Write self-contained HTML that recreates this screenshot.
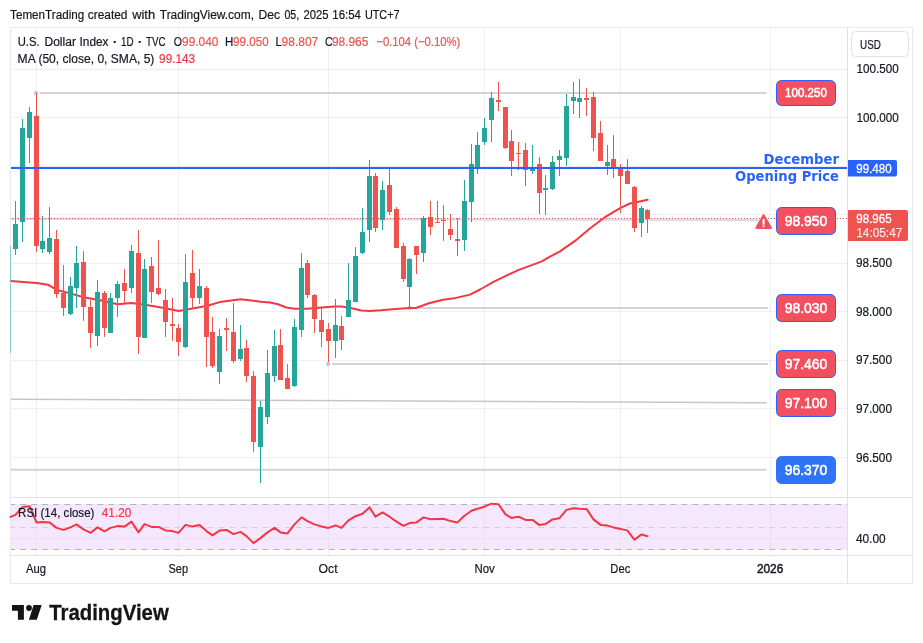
<!DOCTYPE html>
<html lang="en"><head><meta charset="utf-8"><title>U.S. Dollar Index chart</title>
<style>html,body{margin:0;padding:0;background:#fff;overflow:hidden}svg{display:block}</style></head>
<body>
<svg width="923" height="643" viewBox="0 0 923 643" font-family="'Liberation Sans', sans-serif" font-size="12.5" fill="#131722">
<rect width="923" height="643" fill="#fff"/>
<g shape-rendering="crispEdges">
<rect x="10.5" y="27.5" width="902" height="556" fill="#fff" stroke="#e9eaee"/>
<rect x="36" y="28" width="1" height="527" fill="#2a2e39" fill-opacity="0.07"/>
<rect x="178" y="28" width="1" height="527" fill="#2a2e39" fill-opacity="0.07"/>
<rect x="328" y="28" width="1" height="527" fill="#2a2e39" fill-opacity="0.07"/>
<rect x="484" y="28" width="1" height="527" fill="#2a2e39" fill-opacity="0.07"/>
<rect x="620" y="28" width="1" height="527" fill="#2a2e39" fill-opacity="0.07"/>
<rect x="770" y="28" width="1" height="527" fill="#2a2e39" fill-opacity="0.07"/>
<rect x="11" y="69" width="836" height="1" fill="#2a2e39" fill-opacity="0.07"/>
<rect x="11" y="117" width="836" height="1" fill="#2a2e39" fill-opacity="0.07"/>
<rect x="11" y="166" width="836" height="1" fill="#2a2e39" fill-opacity="0.07"/>
<rect x="11" y="214" width="836" height="1" fill="#2a2e39" fill-opacity="0.07"/>
<rect x="11" y="263" width="836" height="1" fill="#2a2e39" fill-opacity="0.07"/>
<rect x="11" y="311" width="836" height="1" fill="#2a2e39" fill-opacity="0.07"/>
<rect x="11" y="360" width="836" height="1" fill="#2a2e39" fill-opacity="0.07"/>
<rect x="11" y="408" width="836" height="1" fill="#2a2e39" fill-opacity="0.07"/>
<rect x="11" y="457" width="836" height="1" fill="#2a2e39" fill-opacity="0.07"/>
<rect x="11" y="504" width="836" height="45.6" fill="#f5e8fd" shape-rendering="auto"/>
<rect x="36" y="504" width="1" height="45" fill="#e9dff1"/>
<rect x="178" y="504" width="1" height="45" fill="#e9dff1"/>
<rect x="328" y="504" width="1" height="45" fill="#e9dff1"/>
<rect x="484" y="504" width="1" height="45" fill="#e9dff1"/>
<rect x="620" y="504" width="1" height="45" fill="#e9dff1"/>
<rect x="770" y="504" width="1" height="45" fill="#e9dff1"/>
<rect x="11" y="538" width="836" height="1" fill="#e9dff1"/>
</g>
<line x1="11" y1="504.5" x2="847" y2="504.5" stroke="#b2b5be" stroke-width="1" stroke-dasharray="6 5.02" stroke-dashoffset="1.9"/>
<line x1="11" y1="527.5" x2="847" y2="527.5" stroke="#d4cfdc" stroke-width="1" stroke-dasharray="6 5.02" stroke-dashoffset="1.9"/>
<line x1="11" y1="549.5" x2="847" y2="549.5" stroke="#b2b5be" stroke-width="1" stroke-dasharray="6 5.02" stroke-dashoffset="1.9"/>
<g shape-rendering="crispEdges" fill="#e0e3eb">
<rect x="847" y="28" width="1" height="555" fill="#dfe0e4"/>
<rect x="11" y="497" width="901" height="1"/>
<rect x="11" y="555" width="901" height="1"/>
</g>
<g stroke="#d2d4d9" stroke-width="2" stroke-linecap="butt">
<line x1="39.5" y1="93" x2="766.5" y2="93"/>
<line x1="11" y1="218.9" x2="759" y2="219.8" stroke-width="2.2" stroke="#d8dade"/>
<line x1="413" y1="308" x2="768" y2="308"/>
<line x1="331.8" y1="364" x2="768" y2="364"/>
<line x1="11" y1="469.8" x2="766.5" y2="469.8"/>
</g>
<line x1="11" y1="399.2" x2="766.5" y2="402.8" stroke="#c4c6cd" stroke-width="1.5"/>
<rect x="34.3" y="91.3" width="3.5" height="3.5" fill="#bfc1c9"/>
<rect x="326.4" y="362.2" width="3.5" height="3.5" fill="#bfc1c9"/>
<rect x="407.8" y="306.3" width="3.5" height="3.5" fill="#bfc1c9"/>
<polyline points="10.5,281 36.7,283 47.9,284.7 56.3,289.7 70.3,293.4 83.5,297.2 97.5,299.7 117.6,304.2 131.4,302.9 145,304.7 162.5,307.7 178.7,310.9 192.4,308.5 206.4,306 219.8,302.1 240.6,299.2 260.8,301.7 270,302.6 278,304.3 286.3,307.5 294.5,308.7 307.5,308.8 321.6,307.5 335.3,306.4 341.8,306.4 351.6,308.3 361.4,310.5 369.6,311.1 381,310.3 392.4,309.2 409.5,308 416,307.9 420,306.5 429,303.2 443,299.8 456,297.9 470,294.6 480,289.5 484.5,287 494.4,281.3 506.9,275.3 519.4,269.6 531.8,265.1 541.8,261.4 550,256.7 560,251.4 575,240.9 589.9,228.5 604.9,217.2 620.6,207.8 629.8,203.5 639.7,201.5 647.5,199.8" fill="none" stroke="#f23645" stroke-width="2" stroke-linejoin="round" stroke-linecap="round"/>
<g shape-rendering="crispEdges">
<rect x="10" y="246" width="1" height="107" fill="#8ccfc8"/>
<rect x="15" y="201" width="1" height="54" fill="#26a69a"/>
<rect x="13" y="224" width="5" height="25" fill="#26a69a"/>
<rect x="22" y="119" width="1" height="123" fill="#26a69a"/>
<rect x="20" y="128" width="5" height="94" fill="#26a69a"/>
<rect x="29" y="107" width="1" height="56" fill="#26a69a"/>
<rect x="27" y="112" width="5" height="26" fill="#26a69a"/>
<rect x="36" y="93" width="1" height="159" fill="#ef5350"/>
<rect x="34" y="116" width="5" height="130" fill="#ef5350"/>
<rect x="42" y="216" width="1" height="37" fill="#26a69a"/>
<rect x="40" y="241" width="5" height="8" fill="#26a69a"/>
<rect x="49" y="207" width="1" height="47" fill="#26a69a"/>
<rect x="47" y="238" width="5" height="14" fill="#26a69a"/>
<rect x="56" y="230" width="1" height="68" fill="#ef5350"/>
<rect x="54" y="239" width="5" height="55" fill="#ef5350"/>
<rect x="63" y="265" width="1" height="51" fill="#ef5350"/>
<rect x="61" y="293" width="5" height="15" fill="#ef5350"/>
<rect x="70" y="277" width="1" height="38" fill="#26a69a"/>
<rect x="68" y="286" width="5" height="28" fill="#26a69a"/>
<rect x="76" y="246" width="1" height="62" fill="#26a69a"/>
<rect x="74" y="263" width="5" height="25" fill="#26a69a"/>
<rect x="83" y="251" width="1" height="70" fill="#ef5350"/>
<rect x="81" y="262" width="5" height="45" fill="#ef5350"/>
<rect x="90" y="300" width="1" height="48" fill="#ef5350"/>
<rect x="88" y="307" width="5" height="26" fill="#ef5350"/>
<rect x="97" y="280" width="1" height="66" fill="#26a69a"/>
<rect x="95" y="292" width="5" height="44" fill="#26a69a"/>
<rect x="104" y="291" width="1" height="46" fill="#ef5350"/>
<rect x="102" y="293" width="5" height="35" fill="#ef5350"/>
<rect x="110" y="293" width="1" height="40" fill="#26a69a"/>
<rect x="108" y="298" width="5" height="35" fill="#26a69a"/>
<rect x="117" y="281" width="1" height="36" fill="#26a69a"/>
<rect x="115" y="284" width="5" height="14" fill="#26a69a"/>
<rect x="124" y="269" width="1" height="34" fill="#ef5350"/>
<rect x="122" y="283" width="5" height="8" fill="#ef5350"/>
<rect x="131" y="245" width="1" height="48" fill="#26a69a"/>
<rect x="129" y="251" width="5" height="37" fill="#26a69a"/>
<rect x="138" y="230" width="1" height="124" fill="#ef5350"/>
<rect x="136" y="253" width="5" height="84" fill="#ef5350"/>
<rect x="144" y="259" width="1" height="79" fill="#26a69a"/>
<rect x="142" y="269" width="5" height="69" fill="#26a69a"/>
<rect x="151" y="257" width="1" height="46" fill="#ef5350"/>
<rect x="149" y="266" width="5" height="26" fill="#ef5350"/>
<rect x="158" y="240" width="1" height="55" fill="#ef5350"/>
<rect x="156" y="288" width="5" height="6" fill="#ef5350"/>
<rect x="165" y="289" width="1" height="48" fill="#ef5350"/>
<rect x="163" y="300" width="5" height="22" fill="#ef5350"/>
<rect x="172" y="298" width="1" height="43" fill="#ef5350"/>
<rect x="170" y="324" width="5" height="2" fill="#ef5350"/>
<rect x="178" y="324" width="1" height="32" fill="#ef5350"/>
<rect x="176" y="328" width="5" height="14" fill="#ef5350"/>
<rect x="185" y="254" width="1" height="94" fill="#26a69a"/>
<rect x="183" y="282" width="5" height="65" fill="#26a69a"/>
<rect x="192" y="250" width="1" height="59" fill="#ef5350"/>
<rect x="190" y="273" width="5" height="25" fill="#ef5350"/>
<rect x="199" y="269" width="1" height="35" fill="#26a69a"/>
<rect x="197" y="286" width="5" height="12" fill="#26a69a"/>
<rect x="206" y="286" width="1" height="81" fill="#ef5350"/>
<rect x="204" y="288" width="5" height="49" fill="#ef5350"/>
<rect x="212" y="317" width="1" height="51" fill="#ef5350"/>
<rect x="210" y="332" width="5" height="34" fill="#ef5350"/>
<rect x="219" y="329" width="1" height="55" fill="#26a69a"/>
<rect x="217" y="336" width="5" height="36" fill="#26a69a"/>
<rect x="226" y="318" width="1" height="33" fill="#ef5350"/>
<rect x="224" y="328" width="5" height="2" fill="#ef5350"/>
<rect x="233" y="303" width="1" height="60" fill="#ef5350"/>
<rect x="231" y="332" width="5" height="29" fill="#ef5350"/>
<rect x="240" y="325" width="1" height="36" fill="#26a69a"/>
<rect x="238" y="349" width="5" height="10" fill="#26a69a"/>
<rect x="246" y="340" width="1" height="42" fill="#ef5350"/>
<rect x="244" y="348" width="5" height="28" fill="#ef5350"/>
<rect x="253" y="371" width="1" height="81" fill="#ef5350"/>
<rect x="251" y="376" width="5" height="66" fill="#ef5350"/>
<rect x="260" y="401" width="1" height="82" fill="#26a69a"/>
<rect x="258" y="407" width="5" height="40" fill="#26a69a"/>
<rect x="267" y="350" width="1" height="74" fill="#26a69a"/>
<rect x="265" y="373" width="5" height="44" fill="#26a69a"/>
<rect x="274" y="330" width="1" height="52" fill="#26a69a"/>
<rect x="272" y="346" width="5" height="30" fill="#26a69a"/>
<rect x="280" y="329" width="1" height="51" fill="#ef5350"/>
<rect x="278" y="345" width="5" height="35" fill="#ef5350"/>
<rect x="287" y="364" width="1" height="25" fill="#ef5350"/>
<rect x="285" y="378" width="5" height="11" fill="#ef5350"/>
<rect x="294" y="319" width="1" height="68" fill="#26a69a"/>
<rect x="292" y="327" width="5" height="59" fill="#26a69a"/>
<rect x="301" y="253" width="1" height="84" fill="#26a69a"/>
<rect x="299" y="268" width="5" height="62" fill="#26a69a"/>
<rect x="307" y="260" width="1" height="38" fill="#ef5350"/>
<rect x="305" y="263" width="5" height="32" fill="#ef5350"/>
<rect x="314" y="294" width="1" height="39" fill="#ef5350"/>
<rect x="312" y="295" width="5" height="24" fill="#ef5350"/>
<rect x="321" y="308" width="1" height="39" fill="#ef5350"/>
<rect x="319" y="320" width="5" height="12" fill="#ef5350"/>
<rect x="328" y="323" width="1" height="39" fill="#ef5350"/>
<rect x="326" y="329" width="5" height="12" fill="#ef5350"/>
<rect x="335" y="299" width="1" height="59" fill="#26a69a"/>
<rect x="333" y="325" width="5" height="16" fill="#26a69a"/>
<rect x="341" y="316" width="1" height="34" fill="#ef5350"/>
<rect x="339" y="326" width="5" height="14" fill="#ef5350"/>
<rect x="348" y="263" width="1" height="54" fill="#26a69a"/>
<rect x="346" y="300" width="5" height="17" fill="#26a69a"/>
<rect x="355" y="247" width="1" height="55" fill="#26a69a"/>
<rect x="353" y="256" width="5" height="46" fill="#26a69a"/>
<rect x="362" y="208" width="1" height="46" fill="#26a69a"/>
<rect x="360" y="232" width="5" height="21" fill="#26a69a"/>
<rect x="369" y="160" width="1" height="82" fill="#26a69a"/>
<rect x="367" y="176" width="5" height="54" fill="#26a69a"/>
<rect x="375" y="173" width="1" height="59" fill="#ef5350"/>
<rect x="373" y="176" width="5" height="52" fill="#ef5350"/>
<rect x="382" y="181" width="1" height="49" fill="#26a69a"/>
<rect x="380" y="190" width="5" height="30" fill="#26a69a"/>
<rect x="389" y="168" width="1" height="47" fill="#ef5350"/>
<rect x="387" y="185" width="5" height="27" fill="#ef5350"/>
<rect x="396" y="207" width="1" height="41" fill="#ef5350"/>
<rect x="394" y="209" width="5" height="39" fill="#ef5350"/>
<rect x="403" y="243" width="1" height="39" fill="#ef5350"/>
<rect x="401" y="246" width="5" height="33" fill="#ef5350"/>
<rect x="409" y="258" width="1" height="51" fill="#26a69a"/>
<rect x="407" y="259" width="5" height="28" fill="#26a69a"/>
<rect x="416" y="246" width="1" height="28" fill="#ef5350"/>
<rect x="414" y="246" width="5" height="9" fill="#ef5350"/>
<rect x="423" y="216" width="1" height="46" fill="#26a69a"/>
<rect x="421" y="218" width="5" height="35" fill="#26a69a"/>
<rect x="430" y="201" width="1" height="34" fill="#ef5350"/>
<rect x="428" y="217" width="5" height="10" fill="#ef5350"/>
<rect x="437" y="201" width="1" height="22" fill="#ef5350"/>
<rect x="435" y="222" width="5" height="1" fill="#ef5350"/>
<rect x="443" y="205" width="1" height="36" fill="#ef5350"/>
<rect x="441" y="220" width="5" height="1" fill="#ef5350"/>
<rect x="450" y="214" width="1" height="26" fill="#ef5350"/>
<rect x="448" y="229" width="5" height="6" fill="#ef5350"/>
<rect x="457" y="218" width="1" height="38" fill="#ef5350"/>
<rect x="455" y="239" width="5" height="2" fill="#ef5350"/>
<rect x="464" y="180" width="1" height="71" fill="#26a69a"/>
<rect x="462" y="201" width="5" height="39" fill="#26a69a"/>
<rect x="471" y="144" width="1" height="78" fill="#26a69a"/>
<rect x="469" y="164" width="5" height="38" fill="#26a69a"/>
<rect x="477" y="132" width="1" height="42" fill="#26a69a"/>
<rect x="475" y="145" width="5" height="23" fill="#26a69a"/>
<rect x="484" y="118" width="1" height="27" fill="#26a69a"/>
<rect x="482" y="128" width="5" height="14" fill="#26a69a"/>
<rect x="491" y="92" width="1" height="50" fill="#26a69a"/>
<rect x="489" y="98" width="5" height="22" fill="#26a69a"/>
<rect x="498" y="82" width="1" height="29" fill="#ef5350"/>
<rect x="496" y="100" width="5" height="2" fill="#ef5350"/>
<rect x="505" y="107" width="1" height="42" fill="#ef5350"/>
<rect x="503" y="107" width="5" height="41" fill="#ef5350"/>
<rect x="511" y="130" width="1" height="46" fill="#ef5350"/>
<rect x="509" y="141" width="5" height="20" fill="#ef5350"/>
<rect x="518" y="142" width="1" height="28" fill="#ef5350"/>
<rect x="516" y="153" width="5" height="1" fill="#ef5350"/>
<rect x="525" y="143" width="1" height="43" fill="#ef5350"/>
<rect x="523" y="150" width="5" height="20" fill="#ef5350"/>
<rect x="532" y="145" width="1" height="29" fill="#26a69a"/>
<rect x="530" y="169" width="5" height="2" fill="#26a69a"/>
<rect x="539" y="157" width="1" height="57" fill="#ef5350"/>
<rect x="537" y="164" width="5" height="29" fill="#ef5350"/>
<rect x="545" y="175" width="1" height="40" fill="#26a69a"/>
<rect x="543" y="188" width="5" height="2" fill="#26a69a"/>
<rect x="552" y="156" width="1" height="34" fill="#26a69a"/>
<rect x="550" y="162" width="5" height="27" fill="#26a69a"/>
<rect x="559" y="150" width="1" height="26" fill="#26a69a"/>
<rect x="557" y="156" width="5" height="4" fill="#26a69a"/>
<rect x="566" y="94" width="1" height="72" fill="#26a69a"/>
<rect x="564" y="106" width="5" height="52" fill="#26a69a"/>
<rect x="573" y="82" width="1" height="32" fill="#26a69a"/>
<rect x="571" y="97" width="5" height="4" fill="#26a69a"/>
<rect x="579" y="79" width="1" height="39" fill="#26a69a"/>
<rect x="577" y="98" width="5" height="4" fill="#26a69a"/>
<rect x="586" y="88" width="1" height="28" fill="#ef5350"/>
<rect x="584" y="98" width="5" height="2" fill="#ef5350"/>
<rect x="593" y="92" width="1" height="59" fill="#ef5350"/>
<rect x="591" y="97" width="5" height="41" fill="#ef5350"/>
<rect x="600" y="121" width="1" height="40" fill="#ef5350"/>
<rect x="598" y="133" width="5" height="28" fill="#ef5350"/>
<rect x="607" y="145" width="1" height="30" fill="#26a69a"/>
<rect x="605" y="162" width="5" height="4" fill="#26a69a"/>
<rect x="613" y="135" width="1" height="43" fill="#ef5350"/>
<rect x="611" y="159" width="5" height="10" fill="#ef5350"/>
<rect x="620" y="164" width="1" height="49" fill="#ef5350"/>
<rect x="618" y="168" width="5" height="8" fill="#ef5350"/>
<rect x="627" y="159" width="1" height="25" fill="#ef5350"/>
<rect x="625" y="171" width="5" height="13" fill="#ef5350"/>
<rect x="634" y="186" width="1" height="46" fill="#ef5350"/>
<rect x="632" y="187" width="5" height="41" fill="#ef5350"/>
<rect x="641" y="206" width="1" height="31" fill="#26a69a"/>
<rect x="639" y="208" width="5" height="15" fill="#26a69a"/>
<rect x="647" y="209" width="1" height="24" fill="#ef5350"/>
<rect x="645" y="210" width="5" height="9" fill="#ef5350"/>
</g>
<line x1="12" y1="218.5" x2="847" y2="218.5" stroke="#ef5350" stroke-width="1" stroke-dasharray="1 2" shape-rendering="crispEdges"/>
<line x1="11" y1="168" x2="847" y2="168" stroke="#2962ff" stroke-width="2"/>
<polyline points="10.5,516.9 15.5,514.9 22.5,506.9 29.5,506.2 36.5,522.4 42.5,521.9 49.5,522.4 56.5,527.9 63.5,529.9 70.5,527.4 76.5,524.4 83.5,529.4 90.5,532.9 97.5,527.4 104.5,531.4 110.5,527.9 117.5,526.1 124.5,526.6 131.5,521.6 138.5,532.4 144.5,524.1 151.5,526.9 158.5,526.9 165.5,530.4 172.5,531.1 178.5,532.9 185.5,524.9 192.5,526.6 199.5,525.1 206.5,531.1 212.5,535.4 219.5,530.6 226.5,529.9 233.5,534.1 240.5,531.9 246.5,536.1 253.5,543.1 260.5,538.1 267.5,532.4 274.5,527.9 280.5,532.4 287.5,533.4 294.5,524.4 301.5,517.4 307.5,521.1 314.5,524.4 321.5,526.4 328.5,527.9 335.5,525.4 341.5,527.9 348.5,520.4 355.5,516.2 362.5,513.7 369.5,507.4 375.5,516.7 382.5,512.4 389.5,516.7 396.5,521.6 403.5,525.9 409.5,523.1 416.5,522.4 423.5,517.4 430.5,519.2 437.5,518.9 443.5,518.7 450.5,521.1 457.5,522.4 464.5,515.7 471.5,510.7 477.5,508.7 484.5,506.7 491.5,503.7 498.5,504.2 505.5,514.4 511.5,517.9 518.5,516.7 525.5,519.9 532.5,519.9 539.5,525.1 545.5,524.1 552.5,519.4 559.5,518.2 566.5,509.9 573.5,508.2 579.5,508.7 586.5,508.9 593.5,519.4 600.5,524.9 607.5,525.6 613.5,527.4 620.5,528.9 627.5,530.6 634.5,539.8 641.5,534.4 647.5,536.3" fill="none" stroke="#f23645" stroke-width="2" stroke-linejoin="round" stroke-linecap="round"/>
<g font-family="'DejaVu Sans', 'Liberation Sans', sans-serif" font-weight="bold" font-size="14.2" fill="#2962ff" text-anchor="end">
<text x="839" y="164.3" textLength="75.5" lengthAdjust="spacingAndGlyphs">December</text>
<text x="839" y="180.9" textLength="104" lengthAdjust="spacingAndGlyphs">Opening Price</text>
</g>
<rect x="776.5" y="80.5" width="59" height="25" rx="5" ry="5" fill="#f24f5f" stroke="#2962ff" stroke-width="1"/>
<text x="806" y="97.3" font-size="12" fill="#fff" stroke="#fff" stroke-width="0.55" text-anchor="middle" textLength="41.8" lengthAdjust="spacingAndGlyphs">100.250</text>
<rect x="776.5" y="207.5" width="59" height="27" rx="5" ry="5" fill="#f24f5f" stroke="#2962ff" stroke-width="1"/>
<text x="806" y="226.0" font-size="14" fill="#fff" stroke="#fff" stroke-width="0.55" text-anchor="middle" textLength="42.6" lengthAdjust="spacingAndGlyphs">98.950</text>
<rect x="776.5" y="294.5" width="59" height="27" rx="5" ry="5" fill="#f24f5f" stroke="#2962ff" stroke-width="1"/>
<text x="806" y="313.0" font-size="14" fill="#fff" stroke="#fff" stroke-width="0.55" text-anchor="middle" textLength="42.6" lengthAdjust="spacingAndGlyphs">98.030</text>
<rect x="776.5" y="350.5" width="59" height="27" rx="5" ry="5" fill="#f24f5f" stroke="#2962ff" stroke-width="1"/>
<text x="806" y="369.0" font-size="14" fill="#fff" stroke="#fff" stroke-width="0.55" text-anchor="middle" textLength="42.6" lengthAdjust="spacingAndGlyphs">97.460</text>
<rect x="776.5" y="389.5" width="59" height="27" rx="5" ry="5" fill="#f24f5f" stroke="#2962ff" stroke-width="1"/>
<text x="806" y="408.0" font-size="14" fill="#fff" stroke="#fff" stroke-width="0.55" text-anchor="middle" textLength="42.6" lengthAdjust="spacingAndGlyphs">97.100</text>
<rect x="776.5" y="456.5" width="59" height="27" rx="5" ry="5" fill="#2f74f6" stroke="#2f74f6" stroke-width="1"/>
<text x="806" y="475.0" font-size="14" fill="#fff" stroke="#fff" stroke-width="0.55" text-anchor="middle" textLength="42.6" lengthAdjust="spacingAndGlyphs">96.370</text>
<path d="M763.6 215.4 L770.8 227.8 L756.4 227.8 Z" fill="#f24f5f" stroke="#f24f5f" stroke-width="2.2" stroke-linejoin="round"/>
<rect x="762.6" y="219" width="2" height="5.6" fill="#fff"/><rect x="762.6" y="225.5" width="2" height="1.6" fill="#fff"/>
<text x="856.5" y="73.2" textLength="42.2" lengthAdjust="spacingAndGlyphs" stroke="#131722" stroke-width="0.2">100.500</text>
<text x="856.5" y="121.8" textLength="42.2" lengthAdjust="spacingAndGlyphs" stroke="#131722" stroke-width="0.2">100.000</text>
<text x="855.9" y="267.0" textLength="36.1" lengthAdjust="spacingAndGlyphs" stroke="#131722" stroke-width="0.2">98.500</text>
<text x="855.9" y="315.9" textLength="36.1" lengthAdjust="spacingAndGlyphs" stroke="#131722" stroke-width="0.2">98.000</text>
<text x="855.9" y="364.0" textLength="36.1" lengthAdjust="spacingAndGlyphs" stroke="#131722" stroke-width="0.2">97.500</text>
<text x="855.9" y="412.6" textLength="36.1" lengthAdjust="spacingAndGlyphs" stroke="#131722" stroke-width="0.2">97.000</text>
<text x="855.9" y="461.8" textLength="36.1" lengthAdjust="spacingAndGlyphs" stroke="#131722" stroke-width="0.2">96.500</text>
<text x="855.9" y="543.0" textLength="29.7" lengthAdjust="spacingAndGlyphs" stroke="#131722" stroke-width="0.2">40.00</text>
<path d="M848 160H895a2 2 0 0 1 2 2V174.5a2 2 0 0 1 -2 2H848Z" fill="#2962ff"/>
<text x="856.3" y="172.6" fill="#fff" stroke="#fff" stroke-width="0.3" textLength="35.3" lengthAdjust="spacingAndGlyphs">99.480</text>
<path d="M848 210H906a2 2 0 0 1 2 2V239a2 2 0 0 1 -2 2H848Z" fill="#ef5350"/>
<text x="856.3" y="223.2" fill="#fff" stroke="#fff" stroke-width="0.3" textLength="35.3" lengthAdjust="spacingAndGlyphs">98.965</text>
<text x="856.3" y="236.6" fill="#fff" fill-opacity="0.8" stroke="#fff" stroke-opacity="0.8" stroke-width="0.25" textLength="46" lengthAdjust="spacingAndGlyphs">14:05:47</text>
<rect x="851.5" y="31.5" width="57" height="25" rx="4" fill="#fff" stroke="#e0e3eb"/>
<text x="860.1" y="48.6" textLength="20.8" lengthAdjust="spacingAndGlyphs" stroke="#131722" stroke-width="0.2">USD</text>
<text y="19.3" stroke="#131722" stroke-width="0.2"><tspan x="10.1" textLength="74.1" lengthAdjust="spacingAndGlyphs">TemenTrading</tspan> <tspan x="87.7" textLength="39.8" lengthAdjust="spacingAndGlyphs">created</tspan> <tspan x="132.2" textLength="22.9" lengthAdjust="spacingAndGlyphs">with</tspan> <tspan x="159.8" textLength="94.2" lengthAdjust="spacingAndGlyphs">TradingView.com,</tspan> <tspan x="258.4" textLength="21.6" lengthAdjust="spacingAndGlyphs">Dec</tspan> <tspan x="284.4" textLength="14.7" lengthAdjust="spacingAndGlyphs">05,</tspan> <tspan x="303.5" textLength="25.1" lengthAdjust="spacingAndGlyphs">2025</tspan> <tspan x="332.3" textLength="28.5" lengthAdjust="spacingAndGlyphs">16:54</tspan> <tspan x="364.9" textLength="34.7" lengthAdjust="spacingAndGlyphs">UTC+7</tspan></text>
<text y="46.3" stroke="#131722" stroke-width="0.2"><tspan x="17.7" textLength="21.9" lengthAdjust="spacingAndGlyphs">U.S.</tspan> <tspan x="44.4" textLength="31.6" lengthAdjust="spacingAndGlyphs">Dollar</tspan> <tspan x="79.5" textLength="29.0" lengthAdjust="spacingAndGlyphs">Index</tspan> <tspan x="112.9" font-weight="bold">·</tspan> <tspan x="121.1" textLength="12.5" lengthAdjust="spacingAndGlyphs">1D</tspan> <tspan x="137.9" font-weight="bold">·</tspan> <tspan x="146.0" textLength="19.6" lengthAdjust="spacingAndGlyphs">TVC</tspan></text>
<text x="173.8" y="46.3" textLength="8.2" lengthAdjust="spacingAndGlyphs" stroke-width="0.2" stroke="#131722">O</text>
<text x="182.1" y="46.3" textLength="36.2" lengthAdjust="spacingAndGlyphs" stroke-width="0.2" fill="#ef5350" stroke="#ef5350">99.040</text>
<text x="225.1" y="46.3" textLength="8.3" lengthAdjust="spacingAndGlyphs" stroke-width="0.2" stroke="#131722">H</text>
<text x="233.1" y="46.3" textLength="35.5" lengthAdjust="spacingAndGlyphs" stroke-width="0.2" fill="#ef5350" stroke="#ef5350">99.050</text>
<text x="275.6" y="46.3" textLength="6.3" lengthAdjust="spacingAndGlyphs" stroke-width="0.2" stroke="#131722">L</text>
<text x="281.6" y="46.3" textLength="36.6" lengthAdjust="spacingAndGlyphs" stroke-width="0.2" fill="#ef5350" stroke="#ef5350">98.807</text>
<text x="325.1" y="46.3" textLength="7.8" lengthAdjust="spacingAndGlyphs" stroke-width="0.2" stroke="#131722">C</text>
<text x="331.9" y="46.3" textLength="36.5" lengthAdjust="spacingAndGlyphs" stroke-width="0.2" fill="#ef5350" stroke="#ef5350">98.965</text>
<text x="376.3" y="46.3" textLength="84.0" lengthAdjust="spacingAndGlyphs" stroke-width="0.2" fill="#ef5350" stroke="#ef5350">−0.104 (−0.10%)</text>
<text x="17.6" y="63.3" textLength="136.8" lengthAdjust="spacingAndGlyphs" stroke-width="0.2" stroke="#131722">MA (50, close, 0, SMA, 5)</text>
<text x="159.1" y="63.3" textLength="36.0" lengthAdjust="spacingAndGlyphs" stroke-width="0.2" fill="#f23645" stroke="#f23645">99.143</text>
<text x="18.1" y="517" textLength="76.3" lengthAdjust="spacingAndGlyphs" stroke-width="0.2" stroke="#131722">RSI (14, close)</text>
<text x="101.8" y="517" textLength="29.5" lengthAdjust="spacingAndGlyphs" stroke-width="0.2" fill="#f23645" stroke="#f23645">41.20</text>
<text x="25.9" y="573" textLength="20.0" lengthAdjust="spacingAndGlyphs" stroke="#131722" stroke-width="0.2">Aug</text>
<text x="168.5" y="573" textLength="19.6" lengthAdjust="spacingAndGlyphs" stroke="#131722" stroke-width="0.2">Sep</text>
<text x="318.6" y="573" textLength="19.0" lengthAdjust="spacingAndGlyphs" stroke="#131722" stroke-width="0.2">Oct</text>
<text x="474.5" y="573" textLength="20.3" lengthAdjust="spacingAndGlyphs" stroke="#131722" stroke-width="0.2">Nov</text>
<text x="610.3" y="573" textLength="20.0" lengthAdjust="spacingAndGlyphs" stroke="#131722" stroke-width="0.2">Dec</text>
<text x="756.9" y="573" stroke="#131722" stroke-width="0.45" textLength="26.4" lengthAdjust="spacingAndGlyphs">2026</text>
<path d="M12 605.1H23.9V619.7H17.9V610.8H12Z M33.6 605.1H41.7L36.8 619.7H28.9Z" fill="#151515"/><circle cx="29" cy="608" r="2.9" fill="#151515"/>
<text x="49.2" y="619.7" font-size="21.2" font-weight="bold" fill="#151515" stroke="#151515" stroke-width="0.3" textLength="119.6" lengthAdjust="spacingAndGlyphs">TradingView</text>
</svg>
</body></html>
